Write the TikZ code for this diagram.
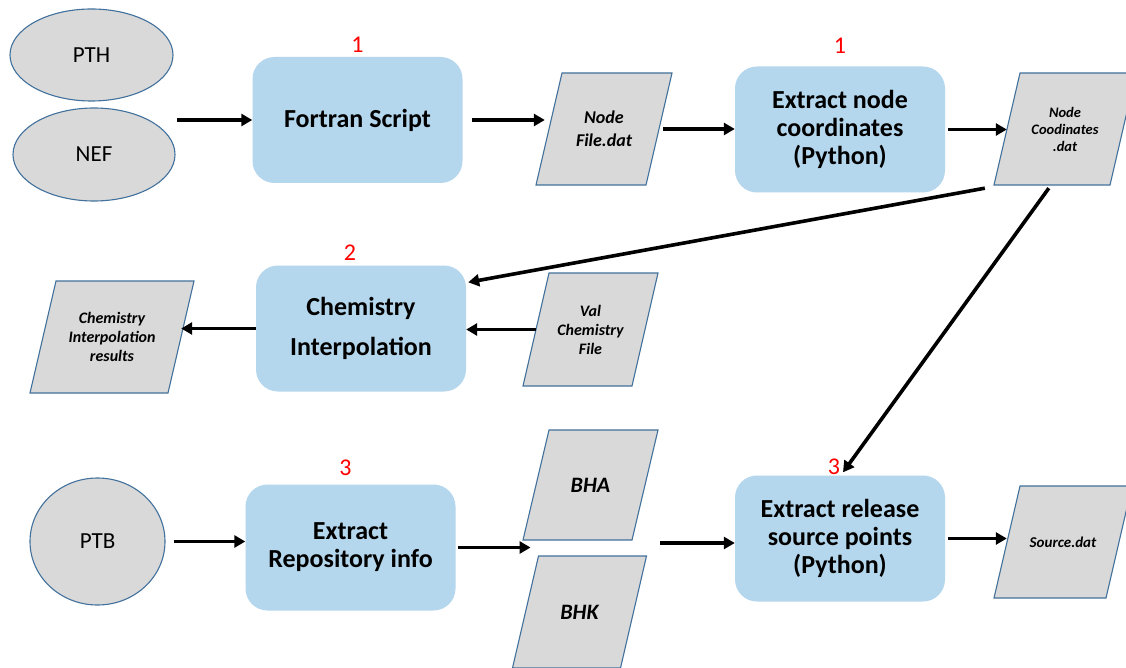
\documentclass[tikz,border=0pt]{standalone}
\usepackage{fontspec}
\setmainfont{Carlito}
\usetikzlibrary{shapes.geometric, positioning, arrows.meta, calc}

\definecolor{procblue}{RGB}{181,215,237}
\definecolor{filegray}{RGB}{217,217,217}
\definecolor{edgeblue}{RGB}{65,113,156}

\newcommand{\filetext}[2]{\fontsize{#1}{#2}\selectfont\bfseries\itshape}

\begin{document}
\begin{tikzpicture}[x=1pt, y=-1pt, >={Triangle[length=11pt,width=12pt]}]

  % Define shape styles
  \tikzset{
    procbox/.style={rectangle, rounded corners=22pt, fill=procblue,
      minimum width=210pt, minimum height=126pt, align=center,
      font=\fontsize{26}{28}\selectfont\bfseries},
    % parallelogram drawn inside the node's box, slant of 27pt
    filebox/.style={rectangle, align=center, inner sep=2pt,
      path picture={
        \draw[edgeblue, line width=1.1pt, fill=filegray]
          ([xshift=27pt, yshift=-1pt]path picture bounding box.north west)
          -- ([xshift=-1pt, yshift=-1pt]path picture bounding box.north east)
          -- ([xshift=-27pt, yshift=1pt]path picture bounding box.south east)
          -- ([xshift=1pt, yshift=1pt]path picture bounding box.south west)
          -- cycle;
      }},
    srcnode/.style={ellipse, draw=edgeblue, line width=1.1pt, fill=filegray,
      font=\fontsize{23}{26}\selectfont},
    numlabel/.style={text=red, font=\fontsize{24}{26}\selectfont, inner sep=0pt},
    flow/.style={->, line width=3.6pt},
  }

  \fill[white] (0,0) rectangle (1126,668);
  \useasboundingbox (0,0) rectangle (1126,668);
  \clip (0,0) rectangle (1126,668);

  % Row 1: mesh files to node coordinates
  \node[srcnode, minimum width=163pt, minimum height=92pt] (pth) at (91.5,55) {PTH};
  \node[srcnode, minimum width=162pt, minimum height=93pt] (nef) at (94,154.5) {NEF};
  \coordinate (ellgap) at (177,120);

  \node[procbox] (fortran) at (357.5,120) {Fortran Script};
  \node[numlabel, above=4.5pt of fortran] {1};

  \node[filebox, minimum width=138pt, minimum height=114pt, font=\filetext{18}{23}]
    (nodefile) at (604,129) {Node\\File.dat};

  \node[procbox] (extract) at (840,129.5) {Extract node\\coordinates\\(Python)};
  \node[numlabel, above=12.5pt of extract] {1};

  \node[filebox, minimum width=144pt, minimum height=114pt, font=\filetext{14.5}{17}]
    (ncoord) at (1065,129) {Node\\Coodinates\\.dat};

  % Row 2: chemistry interpolation
  \node[procbox] (chem) at (361,328.5) {Chemistry\\[12pt]Interpolation};
  \node[numlabel, above=4.5pt of chem, xshift=-11pt] {2};

  \node[filebox, minimum width=137pt, minimum height=115pt, font=\filetext{16}{19}]
    (valchem) at (590.5,329.5) {Val\\Chemistry\\File};

  \node[filebox, minimum width=166pt, minimum height=114pt, font=\filetext{16}{19}]
    (results) at (112,337) {Chemistry\\Interpolation\\results};

  % Row 3: repository and release points
  \node[srcnode, minimum width=135pt, minimum height=127pt] (ptb) at (97.5,541.5) {PTB};

  \node[procbox] (repo) at (350.5,547.5) {Extract\\Repository info};
  \node[numlabel, above=8.5pt of repo, xshift=-5pt] {3};

  \node[filebox, minimum width=137pt, minimum height=112pt, font=\filetext{22}{24}]
    (bha) at (590.5,485) {BHA};
  \node[filebox, minimum width=136pt, minimum height=114pt, font=\filetext{22}{24}]
    (bhk) at (579.5,612) {BHK};
  \coordinate (bhgap) at ($(bha.south west)!.5!(bhk.north west)+(14,0)$);
  \coordinate (bhout) at (660,543);

  \node[procbox] (release) at (840,538.5) {Extract release\\source points\\(Python)};
  \node[numlabel, above=0pt of release, xshift=-6pt] {3};

  \node[filebox, minimum width=140pt, minimum height=114pt, font=\filetext{15}{17}]
    (source) at (1063,542) {Source.dat};

  % Connectors
  \draw[flow] (ellgap) -- (fortran.west);
  \draw[flow, shorten <=9pt, shorten >=4pt] (fortran.east) -- ([xshift=14pt]fortran.east -| nodefile.west);
  \draw[flow, shorten <=4pt] ([xshift=-14pt]nodefile.east) -- (nodefile.east -| extract.west);
  \draw[flow, shorten <=3pt] (extract.east) -- ([xshift=14pt]extract.east -| ncoord.west);

  \draw[flow] ([xshift=-8pt, yshift=-2pt]ncoord.south west)
    -- ([xshift=2pt, yshift=-17pt]chem.north east);
  \draw[flow] ([xshift=56pt, yshift=-2pt]ncoord.south west)
    -- ([xshift=3pt, yshift=3pt]release.north);

  \draw[flow] ([xshift=14pt]valchem.west) -- (valchem.west -| chem.east);
  \draw[flow] (chem.west) -- ([xshift=-14pt]chem.west -| results.east);

  \draw[flow, shorten <=8pt] (ptb.east) -- (ptb.east -| repo.west);
  \draw[flow, shorten <=2pt] (repo.east) -- (repo.east -| bhgap);
  \draw[flow] (bhout) -- (bhout -| release.west);
  \draw[flow, shorten <=3pt] (release.east) -- ([xshift=14pt]release.east -| source.west);

\end{tikzpicture}
\end{document}
